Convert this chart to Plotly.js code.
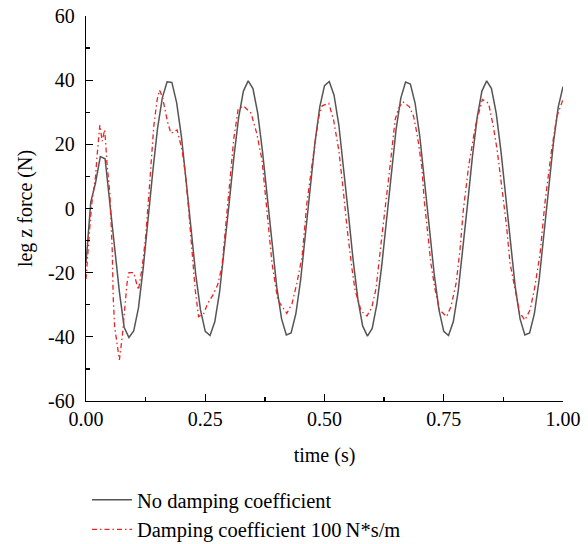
<!DOCTYPE html>
<html>
<head>
<meta charset="utf-8">
<script src="https://cdn.plot.ly/plotly-3.0.1.min.js"></script>
<style>
  html, body { margin: 0; padding: 0; background: #fff; }
  #chart { width: 588px; height: 544px; }
</style>
</head>
<body>
<div id="chart"></div>
<script>
// ---- data ----
var seriesNames = ["No damping coefficient", "Damping coefficient 100\u2009N*s/m"];

var noDampTime = [0.00,0.01,0.02,0.03,0.04,0.05,0.06,0.07,0.08,0.09,
  0.10,0.11,0.12,0.13,0.14,0.15,0.16,0.17,0.18,0.19,
  0.20,0.21,0.22,0.23,0.24,0.25,0.26,0.27,0.28,0.29,
  0.30,0.31,0.32,0.33,0.34,0.35,0.36,0.37,0.38,0.39,
  0.40,0.41,0.42,0.43,0.44,0.45,0.46,0.47,0.48,0.49,
  0.50,0.51,0.52,0.53,0.54,0.55,0.56,0.57,0.58,0.59,
  0.60,0.61,0.62,0.63,0.64,0.65,0.66,0.67,0.68,0.69,
  0.70,0.71,0.72,0.73,0.74,0.75,0.76,0.77,0.78,0.79,
  0.80,0.81,0.82,0.83,0.84,0.85,0.86,0.87,0.88,0.89,
  0.90,0.91,0.92,0.93,0.94,0.95,0.96,0.97,0.98,0.99,1.00];
var noDampForce = [-17,2,8,16.2,15.5,2,-11,-26,-37,-40.2,
  -38.2,-31,-18.5,-3,11.5,25,34.5,39.5,39.3,33,
  22.5,8.5,-6.5,-20.5,-31.6,-38.3,-39.6,-35.3,-26.1,-13.2,
  1.5,16,28.3,36.6,39.8,37.4,29.7,17.8,3.5,-11.3,
  -24.6,-34.4,-39.4,-38.8,-32.8,-22.2,-8.4,6.5,20.5,31.6,
  38.3,39.6,35.3,26.1,13.2,-1.5,-16,-28.3,-36.6,-39.8,
  -37.4,-29.7,-17.8,-3.5,11.3,24.6,34.4,39.4,38.8,32.8,
  22.2,8.4,-6.5,-20.5,-31.6,-38.3,-39.6,-35.3,-26.1,-13.2,
  1.5,16,28.3,36.6,39.8,37.4,29.7,17.8,3.5,-11.3,
  -24.6,-34.4,-39.4,-38.8,-32.8,-22.2,-8.4,6.5,20.5,31.6,38];

var dampTime = [0.000,0.003,0.008,0.013,0.020,0.023,0.029,0.034,0.039,0.041,
  0.044,0.050,0.053,0.055,0.057,0.060,0.065,0.070,0.076,0.081,
  0.086,0.090,0.100,0.106,0.110,0.118,0.125,0.132,0.137,0.142,
  0.149,0.154,0.160,0.166,0.171,0.178,0.185,0.191,0.2015,0.208,
  0.2135,0.219,0.2245,0.229,0.236,0.247,0.255,0.266,0.276,0.285,
  0.294,0.303,0.310,0.319,0.330,0.346,0.358,0.369,0.376,0.383,
  0.390,0.402,0.421,0.432,0.442,0.453,0.463,0.476,0.488,0.495,
  0.509,0.519,0.530,0.540,0.547,0.557,0.564,0.577,0.589,0.599,
  0.608,0.620,0.631,0.638,0.648,0.655,0.664,0.678,0.687,0.695,
  0.704,0.709,0.715,0.723,0.732,0.741,0.756,0.765,0.776,0.784,
  0.791,0.802,0.816,0.831,0.844,0.854,0.862,0.872,0.881,0.889,
  0.900,0.909,0.920,0.931,0.941,0.952,0.962,0.976,0.987,1.000];
var dampForce = [-22,-15,-5.7,2.6,10,16,26,21,24.5,21,
  14,4.7,-4.6,-13,-27.5,-36.8,-42,-47.2,-40,-31.6,
  -23.3,-20,-20,-23.3,-25.4,-18.1,-8.8,4.7,15.1,25.5,
  33.8,36.9,34.9,30.2,27,23.4,24,24.5,18.2,11,
  2.6,-6.7,-17.1,-25.4,-33.7,-32.7,-29.6,-27,-23.8,-18.1,
  -3.6,9.9,22,30.9,32,29.7,23.4,15.1,3.7,-5.7,
  -17.1,-28.5,-32.7,-29.6,-23.3,-15,1.6,16.1,28.6,32,
  32.8,27.6,18.2,4.7,-5.7,-18.1,-25.4,-32,-33.5,-30.9,
  -25,-9,4,14,27.6,31.2,33.3,31.7,28.6,22.4,
  13,2.6,-5.7,-17.1,-25.4,-31.6,-33.7,-30.6,-23.3,-12.9,
  -0.5,13,25.5,34,32.8,25.5,18.2,5.8,-4.6,-17.1,
  -25.4,-32.4,-34.8,-31.6,-24.4,-14,1.6,18.2,28.6,34];

var xTickVals = [0, 0.25, 0.5, 0.75, 1];
var xTickText = ["0.00", "0.25", "0.50", "0.75", "1.00"];
var xMinorVals = [0.125, 0.375, 0.625, 0.875];
var yTickVals = [-60, -40, -20, 0, 20, 40, 60];
var yTickText = ["-60", "-40", "-20", "0", "20", "40", "60"];
var yMinorVals = [-50, -30, -10, 10, 30, 50];

// ---- chart ----
var FONT = "Liberation Serif, Times New Roman, serif";

var traces = [
  {
    x: noDampTime, y: noDampForce, type: "scatter", mode: "lines",
    name: seriesNames[0],
    line: { color: "#555555", width: 1.5 }
  },
  {
    x: dampTime, y: dampForce, type: "scatter", mode: "lines",
    name: seriesNames[1],
    line: { color: "#ee2222", width: 1.3, dash: "5px,3px,1.5px,3px" }
  }
];

var axisCommon = {
  showline: true, linecolor: "#000", linewidth: 1.3,
  showgrid: false, zeroline: false, automargin: false,
  ticks: "inside", ticklen: 7, tickwidth: 1.3, tickcolor: "#000",
  tickmode: "array",
  tickfont: { family: FONT, size: 20, color: "#000" },
  mirror: false, fixedrange: true
};

var layout = {
  width: 588, height: 544,
  margin: { l: 86, r: 25, t: 16, b: 143, pad: 0, autoexpand: false },
  paper_bgcolor: "#fff", plot_bgcolor: "#fff",
  showlegend: true,
  font: { family: FONT, size: 20, color: "#000" },
  xaxis: Object.assign({}, axisCommon, {
    range: [0, 1],
    tickvals: xTickVals, ticktext: xTickText,
    minor: { tickmode: "array", tickvals: xMinorVals, ticks: "inside", ticklen: 4, tickwidth: 1.3, tickcolor: "#000" },
    ticklabelstandoff: 0,
    title: { text: "time (s)", font: { family: FONT, size: 20, color: "#000" }, standoff: 18 }
  }),
  yaxis: Object.assign({}, axisCommon, {
    range: [-60, 60],
    tickvals: yTickVals, ticktext: yTickText,
    minor: { tickmode: "array", tickvals: yMinorVals, ticks: "inside", ticklen: 4, tickwidth: 1.3, tickcolor: "#000" },
    ticklabelstandoff: 6,
    title: { text: "leg z force (N)", font: { family: FONT, size: 20, color: "#000" }, standoff: 10 }
  }),
  legend: {
    x: 0.002, xanchor: "left", y: -0.205, yanchor: "top",
    orientation: "v", bgcolor: "rgba(0,0,0,0)", borderwidth: 0,
    itemwidth: 40, tracegroupgap: 0,
    font: { family: FONT, size: 20.5, color: "#000" }
  }
};

Plotly.newPlot("chart", traces, layout, { staticPlot: true, displayModeBar: false });
</script>
</body>
</html>
